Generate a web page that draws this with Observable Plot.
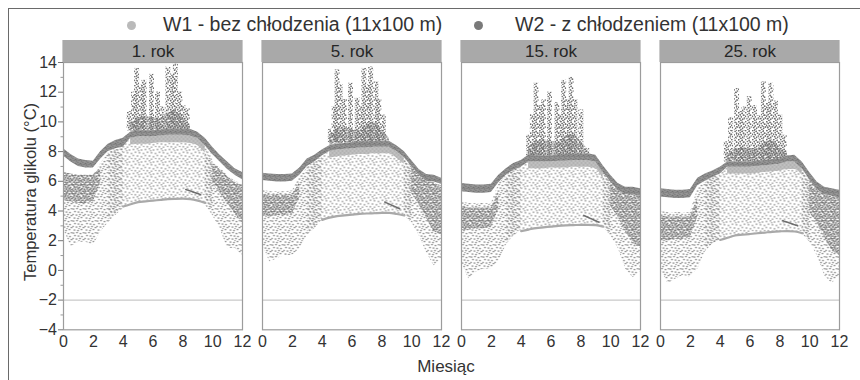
<!DOCTYPE html>
<html>
<head>
<meta charset="utf-8">
<script src="https://cdn.jsdelivr.net/npm/d3@7"></script>
<script src="https://cdn.jsdelivr.net/npm/@observablehq/plot@0.6"></script>
<style>
  body { margin: 0; background: #fff; font-family: "Liberation Sans", Arial, sans-serif; color: #333; }
  #wrap { position: relative; width: 860px; height: 380px; overflow: hidden; background: #fff; }
  #legend { position: relative; height: 40px; }
  #legend .dot { position: absolute; top: 20.5px; width: 9px; height: 9px; border-radius: 50%; }
  #legend .lab { position: absolute; top: 13px; font-size: 19.5px; line-height: 22px; white-space: nowrap; color: #333; }
  #chart svg { display: block; }
  #border { position: absolute; left: 8px; top: 8px; width: 900px; height: 420px; border-left: 1.5px solid #6a6a6a; border-top: 1.5px solid #6a6a6a; pointer-events: none; }
  .title { position: absolute; font-size: 16.5px; white-space: nowrap; color: #333; }
</style>
</head>
<body>
<svg width="0" height="0" style="position:absolute">
  <defs>
    <pattern id="pTop" width="5" height="4" patternUnits="userSpaceOnUse">
      <rect width="5" height="4" fill="#a2a2a2"/>
      <circle cx="1" cy="1" r="0.9" fill="#727272"/>
      <circle cx="3.5" cy="0.6" r="0.9" fill="#727272"/>
      <circle cx="2.4" cy="2.7" r="0.9" fill="#727272"/>
      <circle cx="4.6" cy="3.2" r="0.8" fill="#727272"/>
      <circle cx="0.3" cy="3.4" r="0.8" fill="#727272"/>
    </pattern>
    <pattern id="pDense" width="9" height="9" patternUnits="userSpaceOnUse">
      <circle cx="0.8" cy="0.8" r="0.95" fill="#767676"/>
      <circle cx="3.2" cy="0.4" r="0.9" fill="#767676"/>
      <circle cx="5.8" cy="1.2" r="0.95" fill="#767676"/>
      <circle cx="8.2" cy="0.6" r="0.85" fill="#767676"/>
      <circle cx="1.8" cy="2.8" r="0.95" fill="#767676"/>
      <circle cx="4.4" cy="3.0" r="0.9" fill="#767676"/>
      <circle cx="7.0" cy="3.4" r="0.95" fill="#767676"/>
      <circle cx="0.4" cy="4.8" r="0.9" fill="#767676"/>
      <circle cx="2.9" cy="5.2" r="0.95" fill="#767676"/>
      <circle cx="5.6" cy="5.0" r="0.9" fill="#767676"/>
      <circle cx="8.1" cy="5.6" r="0.95" fill="#767676"/>
      <circle cx="1.5" cy="7.2" r="0.9" fill="#767676"/>
      <circle cx="4.2" cy="7.5" r="0.95" fill="#767676"/>
      <circle cx="6.6" cy="7.0" r="0.9" fill="#767676"/>
      <circle cx="8.6" cy="8.4" r="0.85" fill="#767676"/>
      <circle cx="3.0" cy="8.7" r="0.8" fill="#767676"/>
    </pattern>
    <pattern id="pMed" width="12" height="12" patternUnits="userSpaceOnUse">
      <circle cx="1" cy="1" r="0.85" fill="#7a7a7a"/>
      <circle cx="4.5" cy="0.5" r="0.85" fill="#7a7a7a"/>
      <circle cx="8" cy="1.5" r="0.85" fill="#7a7a7a"/>
      <circle cx="11" cy="0.8" r="0.8" fill="#7a7a7a"/>
      <circle cx="2.5" cy="3.5" r="0.85" fill="#7a7a7a"/>
      <circle cx="6" cy="4" r="0.85" fill="#7a7a7a"/>
      <circle cx="9.5" cy="4.5" r="0.85" fill="#7a7a7a"/>
      <circle cx="0.5" cy="6.5" r="0.8" fill="#7a7a7a"/>
      <circle cx="4" cy="7" r="0.85" fill="#7a7a7a"/>
      <circle cx="7.5" cy="6.5" r="0.85" fill="#7a7a7a"/>
      <circle cx="11" cy="7.5" r="0.85" fill="#7a7a7a"/>
      <circle cx="2" cy="10" r="0.85" fill="#7a7a7a"/>
      <circle cx="5.5" cy="10.5" r="0.85" fill="#7a7a7a"/>
      <circle cx="9" cy="9.5" r="0.85" fill="#7a7a7a"/>
      <circle cx="6.5" cy="8.6" r="0.7" fill="#7a7a7a"/>
    </pattern>
    <pattern id="pLight" width="12" height="12" patternUnits="userSpaceOnUse">
      <circle cx="1" cy="1.5" r="0.95" fill="#acacac"/>
      <circle cx="5" cy="0.8" r="0.95" fill="#acacac"/>
      <circle cx="9" cy="2" r="0.95" fill="#acacac"/>
      <circle cx="3" cy="4.2" r="0.95" fill="#acacac"/>
      <circle cx="7" cy="4.8" r="0.95" fill="#acacac"/>
      <circle cx="11" cy="5.5" r="0.9" fill="#acacac"/>
      <circle cx="0.8" cy="7.5" r="0.95" fill="#acacac"/>
      <circle cx="5" cy="8" r="0.95" fill="#acacac"/>
      <circle cx="9" cy="8.8" r="0.95" fill="#acacac"/>
      <circle cx="2.8" cy="10.8" r="0.95" fill="#acacac"/>
      <circle cx="7" cy="11.2" r="0.9" fill="#acacac"/>
      <circle cx="11.2" cy="10.5" r="0.7" fill="#8c8c8c"/>
      <circle cx="6.2" cy="2.8" r="0.7" fill="#8c8c8c"/>
    </pattern>
    <pattern id="pBand" width="4" height="4" patternUnits="userSpaceOnUse">
      <rect width="4" height="4" fill="#c0c0c0"/>
      <circle cx="1" cy="1" r="0.8" fill="#a4a4a4"/>
      <circle cx="3" cy="3" r="0.8" fill="#a4a4a4"/>
    </pattern>
    <pattern id="pSpike" width="7" height="9" patternUnits="userSpaceOnUse">
      <circle cx="0.8" cy="0.6" r="0.85" fill="#6e6e6e"/>
      <circle cx="4.1" cy="1.3" r="0.9" fill="#6e6e6e"/>
      <circle cx="2.2" cy="2.6" r="0.8" fill="#6e6e6e"/>
      <circle cx="5.6" cy="3.2" r="0.85" fill="#6e6e6e"/>
      <circle cx="0.4" cy="4.3" r="0.9" fill="#6e6e6e"/>
      <circle cx="3.3" cy="4.9" r="0.8" fill="#6e6e6e"/>
      <circle cx="6.3" cy="6.0" r="0.85" fill="#6e6e6e"/>
      <circle cx="1.7" cy="6.6" r="0.9" fill="#6e6e6e"/>
      <circle cx="4.6" cy="7.4" r="0.8" fill="#6e6e6e"/>
      <circle cx="2.9" cy="8.5" r="0.8" fill="#6e6e6e"/>
    </pattern>
  </defs>
</svg>
<div id="wrap">
  <div id="legend">
    <span class="dot" style="left:127px;background:#bababa"></span>
    <span class="lab" style="left:163px">W1 - bez chłodzenia (11x100 m)</span>
    <span class="dot" style="left:474px;background:#7a7a7a"></span>
    <span class="lab" style="left:515px">W2 - z chłodzeniem (11x100 m)</span>
  </div>
  <div id="chart"></div>
  <div class="title" style="left:30px;top:192px;transform:translate(-50%,-50%) rotate(-90deg)">Temperatura glikolu (°C)</div>
  <div class="title" style="left:446px;top:367px;transform:translate(-50%,-50%);font-size:17px">Miesiąc</div>
  <div id="border"></div>
</div>
<script>
const _ = null;
const panels = ["1. rok", "5. rok", "15. rok", "25. rok"];
const months = [0,0.5,1,1.5,2,2.5,3,3.5,4,4.5,5,5.5,6,6.5,7,7.5,8,8.5,9,9.5,10,10.5,11,11.5,12];
const xTicks = [0,2,4,6,8,10,12];
const yTicks = [-4,-2,0,2,4,6,8,10,12,14];
const yMinor = [-3,-1,1,3,5,7,9,11,13];
const refLine = [-2];

// W2: dark top band (upper / lower edge)
const topHi = [
  [8.2,7.8,7.5,7.4,7.35,8.0,8.5,8.75,8.9,9.3,9.4,9.4,9.4,9.45,9.5,9.5,9.5,9.5,9.3,8.9,8.3,7.75,7.3,6.85,6.6],
  [6.55,6.5,6.45,6.45,6.5,6.9,7.5,7.75,8.1,8.4,8.5,8.55,8.6,8.65,8.65,8.7,8.7,8.7,8.4,8.0,7.4,6.8,6.45,6.4,6.2],
  [5.85,5.8,5.75,5.75,5.8,6.4,6.85,7.2,7.4,7.75,7.7,7.7,7.7,7.75,7.8,7.8,7.8,7.85,7.75,7.05,6.4,5.85,5.6,5.6,5.5],
  [5.5,5.45,5.4,5.4,5.45,6.2,6.5,6.7,6.95,7.3,7.3,7.3,7.3,7.35,7.4,7.45,7.5,7.7,7.75,7.3,6.6,5.95,5.6,5.5,5.4]
];
const topLo = [
  [7.7,7.3,7.0,6.9,6.9,7.5,8.0,8.2,8.3,8.9,9.0,9.0,9.0,9.05,9.1,9.1,9.1,9.05,8.9,8.4,7.8,7.3,6.8,6.4,6.1],
  [6.05,6.0,5.95,5.95,6.0,6.4,7.0,7.3,7.7,8.0,8.1,8.15,8.2,8.25,8.25,8.3,8.3,8.3,8.0,7.6,7.0,6.4,6.0,5.95,5.8],
  [5.3,5.25,5.2,5.2,5.25,5.9,6.4,6.75,6.95,7.3,7.3,7.3,7.3,7.35,7.35,7.4,7.4,7.4,7.3,6.6,5.95,5.4,5.15,5.1,5.0],
  [4.95,4.9,4.85,4.85,4.9,5.7,6.0,6.25,6.5,6.95,6.95,6.95,6.95,7.0,7.05,7.1,7.15,7.3,7.3,6.85,6.1,5.45,5.1,5.0,4.9]
];
// W1: light band just below the dark band (summer)
const lightLo = [
  [_,_,_,_,_,_,_,_,_,8.45,8.5,8.5,8.55,8.6,8.6,8.6,8.6,8.55,8.4,7.9,_,_,_,_,_],
  [_,_,_,_,_,_,_,_,_,7.55,7.65,7.7,7.75,7.8,7.8,7.85,7.85,7.85,7.55,7.15,_,_,_,_,_],
  [_,_,_,_,_,_,_,_,_,6.85,6.85,6.85,6.9,6.9,6.9,6.95,6.95,6.95,6.85,6.15,_,_,_,_,_],
  [_,_,_,_,_,_,_,_,_,6.5,6.5,6.5,6.5,6.55,6.6,6.65,6.7,6.8,6.8,6.4,_,_,_,_,_]
];
// W1: lower edge of the light cloud (smooth curve in summer)
const domeLo = [
  [_,_,_,_,_,_,3.3,3.8,4.3,4.45,4.6,4.65,4.7,4.75,4.8,4.82,4.83,4.8,4.7,4.55,4.0,_,_,_,_],
  [_,_,_,_,_,_,2.4,2.9,3.4,3.55,3.65,3.7,3.75,3.8,3.83,3.85,3.87,3.87,3.8,3.7,3.2,_,_,_,_],
  [_,_,_,_,_,_,1.7,2.3,2.65,2.75,2.85,2.9,2.95,3.0,3.03,3.05,3.07,3.07,3.05,2.95,2.35,_,_,_,_],
  [_,_,_,_,_,_,1.25,1.8,2.05,2.2,2.35,2.4,2.45,2.5,2.55,2.6,2.63,2.65,2.62,2.5,1.9,_,_,_,_]
];
// W2: winter cloud (upper / lower edge)
const w2Hi = [
  [6.6,6.5,6.4,6.4,6.4,7.2,7.9,8.1,8.2,_,_,_,_,_,_,_,_,_,_,8.2,7.3,6.9,6.4,6.0,5.8],
  [5.4,5.3,5.3,5.3,5.35,6.3,6.9,7.2,7.6,_,_,_,_,_,_,_,_,_,_,7.5,7.0,6.4,6.0,5.9,5.7],
  [4.6,4.5,4.5,4.5,4.5,5.8,6.4,6.75,6.95,_,_,_,_,_,_,_,_,_,_,6.6,6.0,5.5,5.2,5.1,5.0],
  [4.0,3.9,3.9,3.9,3.9,5.5,6.0,6.25,6.5,_,_,_,_,_,_,_,_,_,_,6.85,6.1,5.45,5.1,5.0,4.9]
];
const w2Lo = [
  [2.8,1.6,1.9,1.9,1.7,2.6,3.2,3.7,4.15,_,_,_,_,_,_,_,_,_,_,4.4,3.7,2.8,1.45,1.5,1.0],
  [1.7,0.55,0.8,1.0,1.0,1.45,2.35,2.8,3.4,_,_,_,_,_,_,_,_,_,_,3.7,3.25,2.35,1.2,0.3,0.8],
  [0.55,-0.6,-0.1,0.1,0.1,0.6,1.7,2.35,2.7,_,_,_,_,_,_,_,_,_,_,2.9,2.35,1.5,0.1,-0.5,-0.1],
  [0.1,-0.9,-0.6,-0.35,-0.45,0.1,1.25,1.8,2.05,_,_,_,_,_,_,_,_,_,_,2.5,1.9,1.0,-0.35,-0.9,-0.35]
];
// W2: densest part of the winter cloud
const denseHi = [
  [6.6,6.5,6.4,6.4,6.4,6.9,_,_,_,_,_,_,_,_,_,_,_,_,_,_,7.2,6.8,6.3,5.9,5.7],
  [5.1,5.1,5.1,5.1,5.1,5.9,_,_,_,_,_,_,_,_,_,_,_,_,_,_,7.0,6.4,6.0,5.9,5.6],
  [4.3,4.2,4.2,4.2,4.2,5.3,_,_,_,_,_,_,_,_,_,_,_,_,_,_,6.0,5.5,5.2,5.1,5.0],
  [3.7,3.6,3.6,3.6,3.6,4.9,_,_,_,_,_,_,_,_,_,_,_,_,_,_,6.1,5.45,5.1,5.0,4.9]
];
const denseLo = [
  [4.7,4.6,4.5,4.5,4.6,5.9,_,_,_,_,_,_,_,_,_,_,_,_,_,_,5.8,5.2,4.5,3.8,3.2],
  [3.7,3.6,3.7,3.7,3.8,4.9,_,_,_,_,_,_,_,_,_,_,_,_,_,_,5.2,4.4,3.5,2.6,2.4],
  [2.7,2.7,2.8,2.8,2.9,4.1,_,_,_,_,_,_,_,_,_,_,_,_,_,_,4.3,3.6,2.6,1.8,1.5],
  [2.0,2.0,2.1,2.1,2.2,3.6,_,_,_,_,_,_,_,_,_,_,_,_,_,_,3.9,3.2,2.2,1.3,1.0]
];
// W2: dense zone above the band in summer
const spikeZone = [
  [_,_,_,_,_,_,_,_,_,9.9,10.3,10.4,10.3,10.2,10.6,10.8,10.3,9.7,_,_,_,_,_,_,_],
  [_,_,_,_,_,_,_,_,_,9.0,9.5,9.6,9.5,9.4,9.8,10.0,9.5,8.9,_,_,_,_,_,_,_],
  [_,_,_,_,_,_,_,_,_,8.3,8.7,8.8,8.7,8.6,9.0,9.2,8.7,8.1,_,_,_,_,_,_,_],
  [_,_,_,_,_,_,_,_,_,7.8,8.2,8.3,8.2,8.2,8.6,8.8,8.3,7.9,_,_,_,_,_,_,_]
];
// W2: summer spikes (month, peak)
const spikeMonths = [
  [4.4,4.7,4.9,5.2,5.4,5.9,6.3,6.6,7.0,7.3,7.5,7.8,8.0,8.3],
  [4.55,4.8,5.0,5.2,5.5,5.9,6.35,6.6,6.8,7.05,7.25,7.6,7.8,8.1],
  [4.5,4.75,5.0,5.25,5.5,5.9,6.4,6.6,6.85,7.1,7.35,7.6,8.0,8.4],
  [4.4,4.7,5.1,5.35,5.6,5.95,6.3,6.6,6.9,7.15,7.4,7.7,8.0,8.3]
];
const spikePeaks = [
  [10.7,12.0,13.6,12.5,12.8,13.2,12.0,11.0,13.7,13.2,13.9,12.0,11.1,10.9],
  [9.5,11.0,13.5,12.5,11.5,12.6,11.6,11.0,13.6,12.5,13.7,12.7,11.5,10.45],
  [9.1,10.5,12.6,11.1,11.5,12.0,11.3,10.5,12.8,11.5,13.0,11.5,10.8,8.2],
  [8.65,10.3,12.25,10.7,11.0,11.7,11.1,10.4,12.7,11.3,12.6,11.4,10.45,9.1]
];
const spikeBase = [9.4, 8.6, 7.7, 7.3];
// W2: short dark segment in autumn
const segMonths = [8.2, 9.2];
const segValues = [[5.45,5.1],[4.6,4.15],[3.7,3.25],[3.35,3.0]];

const rows = panels.flatMap((panel, i) => months.map((m, j) => ({
  panel, m,
  topHi: topHi[i][j], topLo: topLo[i][j], lightLo: lightLo[i][j], domeLo: domeLo[i][j],
  w2Hi: w2Hi[i][j], w2Lo: w2Lo[i][j], dHi: denseHi[i][j], dLo: denseLo[i][j], zone: spikeZone[i][j]
})));
const spikes = panels.flatMap((panel, i) => spikeMonths[i].map((m, j) => ({
  panel, m, peak: spikePeaks[i][j], base: spikeBase[i]
})));
const segs = panels.flatMap((panel, i) => segMonths.map((m, j) => ({panel, m, v: segValues[i][j]})));

const NS = "http://www.w3.org/2000/svg";
function strip(index, {x, y}) {
  const r = document.createElementNS(NS, "rect");
  const x0 = x(0), x1 = x(12), yt = y(14);
  r.setAttribute("x", x0 - 0.6);
  r.setAttribute("width", x1 - x0 + 1.2);
  r.setAttribute("y", yt - 22);
  r.setAttribute("height", 22);
  r.setAttribute("fill", "#a9a9a9");
  return r;
}
const FONT = "'Liberation Sans', Arial, sans-serif";

const chart = Plot.plot({
  width: 860,
  height: 340,
  marginTop: 22,
  marginBottom: 50.7,
  marginLeft: 62.5,
  marginRight: 20.7,
  fx: {domain: panels, paddingInner: 0.102, paddingOuter: 0, axis: null},
  x: {domain: [0, 12]},
  y: {domain: [-4, 14]},
  style: {fontFamily: FONT, fontSize: "16px", color: "#333", background: "transparent", overflow: "visible"},
  marks: [
    Plot.ruleY(refLine, {y: d => d, stroke: "#c9c9c9", strokeWidth: 1.3}),
    Plot.areaY(rows, {fx: "panel", x: "m", y1: "domeLo", y2: "topLo", fill: "url(#pLight)"}),
    Plot.areaY(rows, {fx: "panel", x: "m", y1: "w2Lo", y2: "w2Hi", fill: "url(#pMed)"}),
    Plot.areaY(rows, {fx: "panel", x: "m", y1: "dLo", y2: "dHi", fill: "url(#pDense)"}),
    Plot.line(rows, {filter: d => d.m >= 4 && d.m <= 9.5, fx: "panel", x: "m", y: "domeLo", stroke: "#a9a9a9", strokeWidth: 2.2, curve: "monotone-x"}),
    Plot.areaY(rows, {fx: "panel", x: "m", y1: "lightLo", y2: "topLo", fill: "url(#pBand)", curve: "monotone-x"}),
    Plot.areaY(rows, {fx: "panel", x: "m", y1: "topHi", y2: "zone", fill: "url(#pDense)"}),
    Plot.ruleX(spikes, {fx: "panel", x: "m", y1: "base", y2: "peak", stroke: "url(#pSpike)", strokeWidth: 5}),
    Plot.ruleX(spikes, {fx: "panel", x: "m", y1: "base", y2: "peak", stroke: "#7a7a7a", strokeWidth: 1, strokeDasharray: "1.2,2.6"}),
    Plot.areaY(rows, {fx: "panel", x: "m", y1: "topLo", y2: "topHi", fill: "url(#pTop)"}),
    Plot.line(segs, {fx: "panel", x: "m", y: "v", stroke: "#6e6e6e", strokeWidth: 1.6, strokeDasharray: "1.5,1"}),
    Plot.frame({stroke: "#9c9c9c", strokeWidth: 1.2}),
    strip,
    Plot.text(panels, {fx: d => d, text: d => d, frameAnchor: "top", lineAnchor: "middle", dy: -11, fontSize: 17, fontFamily: FONT, fill: "#262626"}),
    Plot.axisX({ticks: xTicks, tickSize: 0, tickPadding: 6, fontSize: 16, fontFamily: FONT, label: null}),
    Plot.axisY({ticks: yTicks, tickSize: 5, tickPadding: 1.5, fontSize: 16, fontFamily: FONT, label: null, stroke: "#777"}),
    Plot.axisY({ticks: yMinor, tickSize: 2.5, tickFormat: () => "", label: null, stroke: "#999"})
  ]
});
document.getElementById("chart").append(chart);
</script>
</body>
</html>
